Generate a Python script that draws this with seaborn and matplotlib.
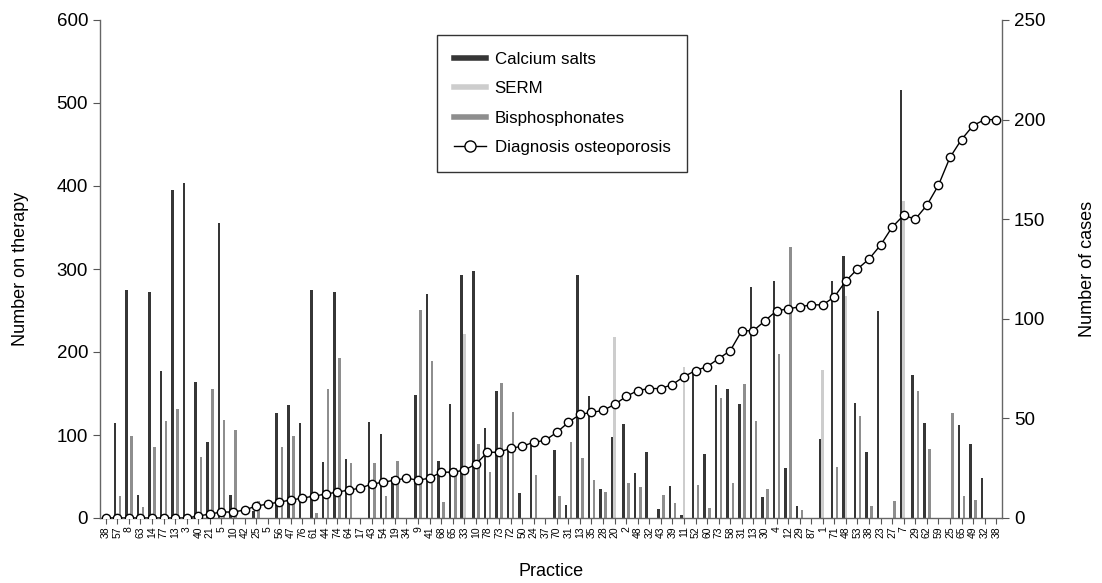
import numpy as np
import pandas as pd
import matplotlib
matplotlib.use("Agg")
import matplotlib.pyplot as plt
from matplotlib.lines import Line2D
import seaborn as sns

practices = ["38","57","8","63","14","77","13","3","40","21","5","10","42","25","5","56","47","76","61","44",
             "74","64","17","43","54","19","34","9","41","68","65","33","10","78","73","72","50","24","37","70",
             "31","13","35","28","20","2","48","32","43","39","11","52","60","73","58","31","13","30","4","12",
             "29","87","1","71","48","53","38","23","27","7","29","62","59","25","65","49","32","38"]

calcium = [0,114,275,28,272,177,395,404,164,92,355,28,0,8,0,126,136,114,275,67,
           272,71,0,116,101,50,0,148,270,69,137,293,297,108,153,82,30,88,0,82,
           16,293,147,35,97,113,54,79,11,38,4,175,77,160,156,137,278,25,285,60,
           14,0,95,285,316,138,79,249,0,516,172,114,0,0,112,89,48,0]

serm = [0,0,0,0,0,0,0,0,0,0,0,0,0,0,0,0,0,0,0,0,
        0,0,0,0,0,0,0,0,0,0,0,222,0,0,0,0,0,0,0,0,
        0,0,0,0,218,0,0,0,0,0,182,0,0,0,0,0,0,0,0,0,
        0,0,178,0,268,0,0,0,0,382,0,0,0,0,0,0,0,0]

bisphos = [0,27,99,13,86,117,131,0,74,155,118,106,0,20,0,86,99,0,6,155,
           193,66,0,66,26,69,0,251,189,19,60,0,89,55,163,128,0,52,0,26,
           92,72,46,31,0,42,37,0,28,18,0,40,12,145,42,162,117,35,198,326,
           10,0,0,62,0,123,14,0,21,0,153,83,0,126,26,22,0,0]

cases = [0,0,0,0,0,0,0,0,1,2,3,3,4,6,7,8,9,10,11,12,
         13,14,15,17,18,19,20,19,20,23,23,24,27,33,33,35,36,38,39,43,
         48,52,53,54,57,61,64,65,65,67,71,74,76,80,84,94,94,99,104,105,
         106,107,107,111,119,125,130,137,146,152,150,157,167,181,190,197,200,200]

series_names = ["Calcium salts", "SERM", "Bisphosphonates"]
colors = {"Calcium salts": "#363636", "SERM": "#cdcdcd", "Bisphosphonates": "#8e8e8e"}

n = len(practices)
pos = np.arange(n)
df = pd.DataFrame({
    "pos": np.tile(pos, 3),
    "value": calcium + serm + bisphos,
    "series": np.repeat(series_names, n),
})

plt.rcParams["font.family"] = ["Liberation Sans", "DejaVu Sans"]
fig = plt.figure(figsize=(11.02, 5.83), dpi=100)
ax = fig.add_axes([100/1102, 65/583, 902/1102, 498/583])

sns.barplot(data=df, x="pos", y="value", hue="series", hue_order=series_names,
            palette=colors, width=0.66, ax=ax, legend=False, errorbar=None,
            linewidth=0, order=list(pos))
ax.set_ylim(0, 600)
ax.set_xlim(-0.5, n - 0.5)
ax.set_yticks(range(0, 601, 100))
ax.set_xticks(pos)
ax.set_xticklabels(practices, rotation=90, fontsize=7.5)
ax.set_xlabel("Practice", fontsize=13, labelpad=18)
ax.set_ylabel("Number on therapy", fontsize=13, labelpad=20)
ax.tick_params(axis="y", labelsize=13.5, length=5, color="#555555")
ax.tick_params(axis="x", length=4, color="#555555", pad=2)

ax2 = ax.twinx()
sns.lineplot(x=pos, y=cases, ax=ax2, color="black", linewidth=1.0, marker="o",
             markersize=6, markerfacecolor="white", markeredgecolor="black",
             markeredgewidth=1.0, zorder=5)
ax2.set_ylim(0, 250)
ax2.set_yticks(range(0, 251, 50))
ax2.set_ylabel("Number of cases", fontsize=13, labelpad=24)
ax2.tick_params(axis="y", labelsize=13.5, length=5, color="#555555")

for a in (ax, ax2):
    a.spines["top"].set_visible(False)
    for s in ("left", "right", "bottom"):
        a.spines[s].set_color("#666666")
        a.spines[s].set_linewidth(1.0)
ax.spines["right"].set_visible(False)
ax2.spines["left"].set_visible(False)
ax2.spines["bottom"].set_visible(False)

handles = [Line2D([0], [0], color=colors[s], lw=4) for s in series_names]
handles.append(Line2D([0], [0], color="black", lw=1, marker="o", markersize=8,
                      markerfacecolor="white", markeredgecolor="black"))
labels = series_names + ["Diagnosis osteoporosis"]
leg = fig.legend(handles, labels, loc="upper left",
                 bbox_to_anchor=(437/1102, 1 - 35/583), fontsize=12.2,
                 frameon=True, fancybox=False, edgecolor="black",
                 borderpad=1.0, handlelength=1.9, handletextpad=0.5, labelspacing=0.85,
                 borderaxespad=0)
leg.get_frame().set_linewidth(1.0)

fig.savefig("out.png", dpi=100)
